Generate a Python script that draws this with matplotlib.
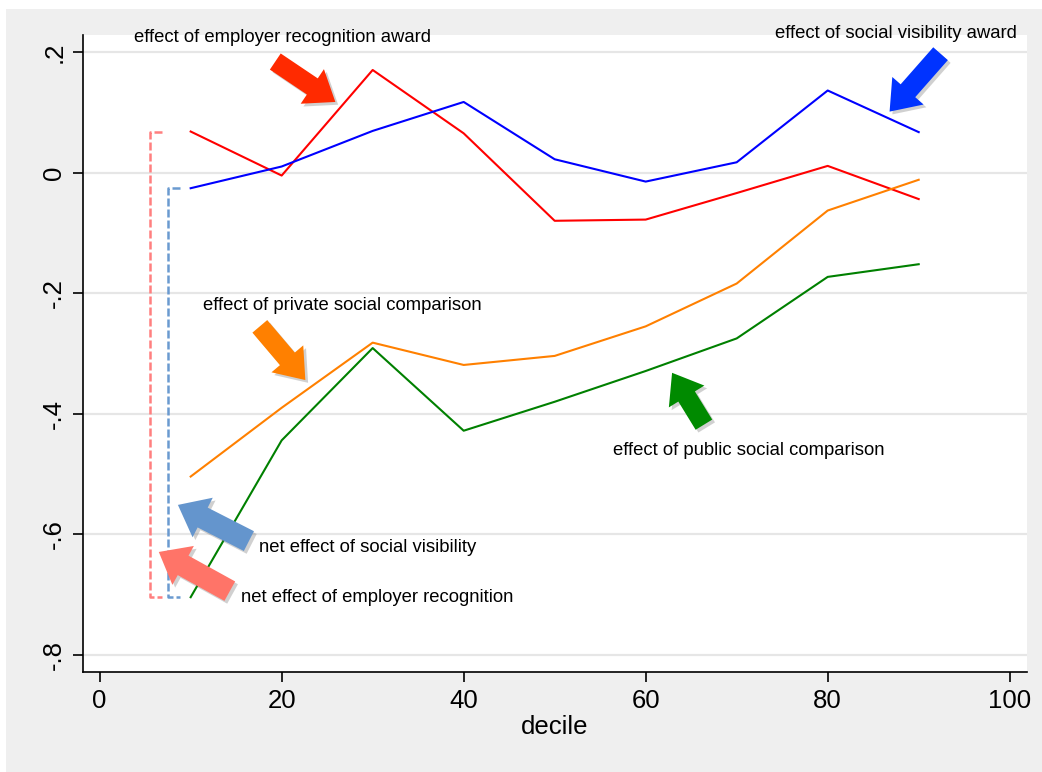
import matplotlib
matplotlib.use("Agg")
import matplotlib.pyplot as plt
import matplotlib.patheffects as pe
from matplotlib.patches import Rectangle

plt.rcParams['font.family'] = ['Liberation Sans', 'DejaVu Sans']

# deciles and estimated effects
decile = [10, 20, 30, 40, 50, 60, 70, 80, 90]
employer_award = [0.068, -0.005, 0.170, 0.065, -0.080, -0.078, -0.034, 0.011, -0.044]
visibility_award = [-0.026, 0.010, 0.069, 0.117, 0.022, -0.015, 0.017, 0.136, 0.067]
private_comparison = [-0.504, -0.390, -0.282, -0.319, -0.304, -0.255, -0.184, -0.063, -0.012]
public_comparison = [-0.704, -0.444, -0.291, -0.428, -0.380, -0.329, -0.275, -0.173, -0.152]

yticks = [0.2, 0, -0.2, -0.4, -0.6, -0.8]
ytick_labels = ['.2', '0', '-.2', '-.4', '-.6', '-.8']
xticks = [0, 20, 40, 60, 80, 100]

W, H = 1042, 772
fig = plt.figure(figsize=(W / 100, H / 100), dpi=100)
fig.patch.set_facecolor('white')
# stata style grey graph region
fig.patches.append(Rectangle((6 / W, 0), 1, 1 - 9 / H, transform=fig.transFigure,
                             facecolor='#EFEFEF', edgecolor='none', zorder=-5))

ax = fig.add_axes([83 / W, (H - 672) / H, (1027 - 83) / W, (672 - 35) / H])
ax.set_facecolor('white')

ax.plot(decile, employer_award, color='#FF0000', lw=1.5, zorder=3)
ax.plot(decile, visibility_award, color='#0000FF', lw=1.5, zorder=3)
ax.plot(decile, private_comparison, color='#FF8000', lw=1.5, zorder=3)
ax.plot(decile, public_comparison, color='#008000', lw=1.5, zorder=3)

ax.set_xlim(-1.83, 101.9)
ax.set_ylim(-0.828, 0.228)
ax.set_yticks(yticks)
ax.set_yticklabels(ytick_labels, rotation=90, va='center')
ax.set_xticks(xticks)
ax.grid(axis='y', color='#E6E6E6', lw=1.6, zorder=0)
ax.set_axisbelow(True)
for s in ['top', 'right']:
    ax.spines[s].set_visible(False)
for s in ['left', 'bottom']:
    ax.spines[s].set_linewidth(1.2)
ax.tick_params(axis='both', length=7, width=1.2, labelsize=18.5)
ax.tick_params(axis='y', pad=5)
ax.tick_params(axis='x', pad=5)
ax.set_xlabel('decile', fontsize=18.5, labelpad=2)

# dashed brackets: net effects at the first decile
b_red = '#FF7F7F'
b_blue = '#6A9AD0'
ax.plot([6.8, 5.5, 5.5, 6.8], [employer_award[0], employer_award[0],
                               public_comparison[0], public_comparison[0]],
        color=b_red, lw=1.8, dashes=(3.2, 1.2), zorder=2)
ax.plot([8.8, 7.55, 7.55, 8.8], [visibility_award[0], visibility_award[0],
                                 public_comparison[0], public_comparison[0]],
        color=b_blue, lw=1.8, dashes=(3.2, 1.2), zorder=2)

shadow = [pe.SimplePatchShadow(offset=(2, -2), shadow_rgbFace='#666666', alpha=0.3), pe.Normal()]


def block_arrow(tail, tip, color, tw=14, hw=30, hl=20):
    ax.annotate('', xy=tip, xytext=tail, zorder=5,
                arrowprops=dict(arrowstyle='simple,head_length=%g,head_width=%g,tail_width=%g' % (hl, hw, tw),
                                fc=color, ec='none', mutation_scale=1,
                                shrinkA=0, shrinkB=0, path_effects=shadow))


block_arrow((19.3, 0.184), (25.9, 0.117), '#FF2A00')
block_arrow((92.4, 0.197), (86.8, 0.101), '#0033FF')
block_arrow((17.6, -0.255), (22.6, -0.344), '#FF8000')
block_arrow((66.4, -0.418), (62.9, -0.332), '#008A00')
block_arrow((16.4, -0.611), (8.6, -0.551), '#6495CD', tw=16, hw=32)
block_arrow((14.3, -0.694), (6.5, -0.629), '#FF7468', tw=16, hw=32)

fs = 13.3
ax.text(20.05, 0.224, 'effect of employer recognition award', fontsize=fs, ha='center', va='center')
ax.text(87.5, 0.230, 'effect of social visibility award', fontsize=fs, ha='center', va='center')
ax.text(26.7, -0.221, 'effect of private social comparison', fontsize=fs, ha='center', va='center')
ax.text(71.3, -0.4615, 'effect of public social comparison', fontsize=fs, ha='center', va='center')
ax.text(29.5, -0.622, 'net effect of social visibility', fontsize=fs, ha='center', va='center')
ax.text(30.5, -0.705, 'net effect of employer recognition', fontsize=fs, ha='center', va='center')

fig.savefig('out.png', dpi=100, facecolor=fig.get_facecolor())
